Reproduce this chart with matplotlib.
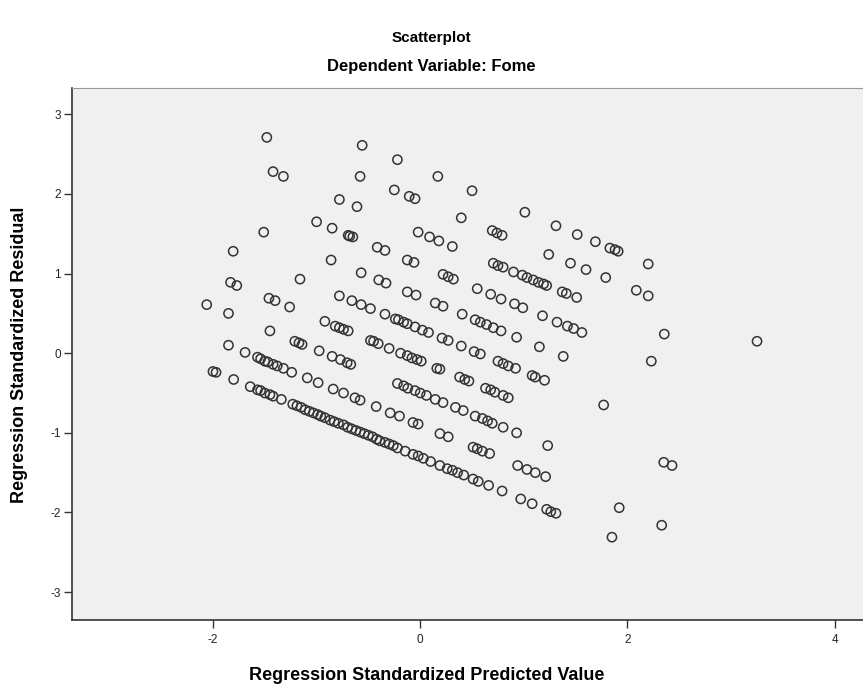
import matplotlib
matplotlib.use("Agg")
import matplotlib.pyplot as plt
import numpy as np

plt.rcParams['font.family'] = ['Liberation Sans', 'DejaVu Sans']
plt.rcParams['axes.unicode_minus'] = False

# Regression standardized predicted value / residual pairs
pred = [
    # lowest band
    -2.00, -1.97, -1.80, -1.64, -1.57, -1.54, -1.50, -1.45, -1.42, -1.34,
    -1.23, -1.19, -1.15, -1.11, -1.07, -1.03, -0.99, -0.96, -0.92, -0.87,
    -0.83, -0.79, -0.74, -0.70, -0.66, -0.62, -0.58, -0.54, -0.50, -0.46,
    -0.42, -0.39, -0.34, -0.30, -0.26, -0.22, -0.145, -0.07, -0.02, 0.03,
    0.10, 0.19, 0.26, 0.31, 0.36, 0.42, 0.51, 0.56, 0.66, 0.79,
    0.97, 1.08, 1.22, 1.26, 1.31, 1.85,
    # band 2
    -1.85, -1.69, -1.57, -1.54, -1.50, -1.47, -1.42, -1.38, -1.32, -1.24,
    -1.09, -0.985, -0.84, -0.74, -0.63, -0.58, -0.425, -0.29, -0.20, -0.07,
    -0.02, 0.19, 0.27, 0.51, 0.55, 0.60, 0.67, 0.94, 1.03, 1.11,
    1.21, 1.92, 2.33,
    # band 3
    -2.06, -1.85, -1.45, -1.21, -1.17, -1.14, -0.975, -0.85, -0.77, -0.705,
    -0.67, -0.22, -0.16, -0.12, -0.05, 0.00, 0.06, 0.145, 0.22, 0.34,
    0.415, 0.53, 0.60, 0.65, 0.695, 0.80, 0.93, 1.23,
    # band 4
    -1.83, -1.77, -1.46, -1.40, -1.26, -0.92, -0.82, -0.78, -0.74, -0.695,
    -0.48, -0.45, -0.405, -0.30, -0.19, -0.125, -0.08, -0.03, 0.01, 0.16,
    0.19, 0.38, 0.43, 0.47, 0.63, 0.68, 0.72, 0.80, 0.85, 2.35,
    2.43,
    # band 5
    -1.805, -1.16, -0.78, -0.66, -0.57, -0.48, -0.34, -0.24, -0.21, -0.16,
    -0.125, -0.05, 0.02, 0.08, 0.21, 0.27, 0.396, 0.52, 0.58, 0.75,
    0.80, 0.85, 0.92, 1.08, 1.11, 1.20, 1.77,
    # band 6
    -1.51, -0.86, -0.57, -0.40, -0.33, -0.125, -0.04, 0.145, 0.22, 0.405,
    0.53, 0.58, 0.64, 0.705, 0.78, 0.93, 1.15, 1.38,
    # band 7
    -1.00, -0.85, -0.695, -0.68, -0.65, -0.415, -0.34, -0.125, -0.06, 0.22,
    0.27, 0.32, 0.55, 0.68, 0.78, 0.91, 0.99, 1.18, 1.32, 1.42,
    1.48, 1.56, 2.23,
    # band 8
    -1.42, -1.32, -0.78, -0.61, -0.02, 0.09, 0.18, 0.31, 0.705, 0.75,
    0.80, 0.90, 0.985, 1.03, 1.09, 1.14, 1.19, 1.22, 1.37, 1.41,
    1.51, 2.355,
    # band 9
    -1.48, -0.58, -0.25, -0.106, -0.05, 0.396, 0.695, 0.74, 0.79, 1.24,
    1.45, 1.60, 1.79, 2.085, 2.20, 3.25,
    # band 10
    -0.56, -0.22, 0.17, 0.50, 1.01, 1.31, 1.515, 1.69, 1.83, 1.88,
    1.91, 2.20,
]

resid = [
    # lowest band
    -0.23, -0.24, -0.33, -0.42, -0.46, -0.47, -0.50, -0.52, -0.54, -0.58,
    -0.64, -0.66, -0.68, -0.71, -0.73, -0.75, -0.77, -0.79, -0.81, -0.84,
    -0.86, -0.88, -0.90, -0.93, -0.95, -0.97, -0.99, -1.01, -1.03, -1.05,
    -1.08, -1.10, -1.12, -1.14, -1.16, -1.19, -1.23, -1.27, -1.29, -1.32,
    -1.36, -1.41, -1.45, -1.47, -1.50, -1.53, -1.58, -1.61, -1.66, -1.73,
    -1.83, -1.89, -1.96, -1.99, -2.01, -2.31,
    # band 2
    0.10, 0.01, -0.05, -0.07, -0.10, -0.11, -0.14, -0.16, -0.19, -0.24,
    -0.31, -0.37, -0.45, -0.50, -0.56, -0.59, -0.67, -0.75, -0.79, -0.87,
    -0.89, -1.01, -1.05, -1.18, -1.20, -1.23, -1.26, -1.41, -1.46, -1.50,
    -1.55, -1.94, -2.16,
    # band 3
    0.61, 0.50, 0.28, 0.15, 0.13, 0.11, 0.03, -0.04, -0.08, -0.12,
    -0.14, -0.38, -0.41, -0.44, -0.47, -0.50, -0.53, -0.58, -0.62, -0.68,
    -0.72, -0.79, -0.82, -0.85, -0.88, -0.93, -1.00, -1.16,
    # band 4
    0.89, 0.85, 0.69, 0.66, 0.58, 0.40, 0.34, 0.32, 0.30, 0.28,
    0.16, 0.15, 0.12, 0.06, 0.00, -0.03, -0.06, -0.08, -0.10, -0.19,
    -0.20, -0.30, -0.33, -0.35, -0.44, -0.46, -0.49, -0.53, -0.56, -1.37,
    -1.41,
    # band 5
    1.28, 0.93, 0.72, 0.66, 0.61, 0.56, 0.49, 0.43, 0.42, 0.39,
    0.37, 0.33, 0.29, 0.26, 0.19, 0.16, 0.09, 0.02, -0.01, -0.10,
    -0.13, -0.16, -0.19, -0.28, -0.30, -0.34, -0.65,
    # band 6
    1.52, 1.17, 1.01, 0.92, 0.88, 0.77, 0.73, 0.63, 0.59, 0.49,
    0.42, 0.39, 0.36, 0.32, 0.28, 0.20, 0.08, -0.04,
    # band 7
    1.65, 1.57, 1.48, 1.47, 1.46, 1.33, 1.29, 1.17, 1.14, 0.99,
    0.96, 0.93, 0.81, 0.74, 0.68, 0.62, 0.57, 0.47, 0.39, 0.34,
    0.31, 0.26, -0.10,
    # band 8
    2.28, 2.22, 1.93, 1.84, 1.52, 1.46, 1.41, 1.34, 1.13, 1.10,
    1.08, 1.02, 0.98, 0.95, 0.92, 0.89, 0.87, 0.85, 0.77, 0.75,
    0.70, 0.24,
    # band 9
    2.71, 2.22, 2.05, 1.97, 1.94, 1.70, 1.54, 1.51, 1.48, 1.24,
    1.13, 1.05, 0.95, 0.79, 0.72, 0.15,
    # band 10
    2.61, 2.43, 2.22, 2.04, 1.77, 1.60, 1.49, 1.40, 1.32, 1.30,
    1.28, 1.12,
]

x_ticks = [-2, 0, 2, 4]
y_ticks = [-3, -2, -1, 0, 1, 2, 3]

W, H = 863, 687
fig = plt.figure(figsize=(W / 100, H / 100), dpi=100)
fig.patch.set_facecolor("white")

# plot area: left edge at 72 px, runs off the right side, top 88 px, bottom 620 px
ax = fig.add_axes([72 / W, (H - 620) / H, 798 / W, 532 / H])
ax.set_facecolor("#f0f0f0")

ax.scatter(pred, resid, s=44, facecolors="none", edgecolors="#333333",
           linewidths=1.1, zorder=3)

ax.set_xlim(-3.36, 4.34)
ax.set_ylim(-3.35, 3.33)
ax.set_xticks(x_ticks)
ax.set_yticks(y_ticks)
ax.tick_params(axis="both", direction="out", length=6, width=1,
               color="#333333", labelsize=8.5, labelcolor="#222222")
ax.tick_params(axis="x", pad=4)
ax.tick_params(axis="y", pad=2)

for side in ["left", "bottom"]:
    ax.spines[side].set_color("#333333")
    ax.spines[side].set_linewidth(1.2)
ax.spines["top"].set_color("#999999")
ax.spines["top"].set_linewidth(0.8)
ax.spines["right"].set_visible(False)

fig.text(0.5, 1 - 38 / H, "Scatterplot", ha="center", va="center",
         fontsize=11, fontweight="bold")
fig.text(0.5, 1 - 67 / H, "Dependent Variable: Fome", ha="center", va="center",
         fontsize=12, fontweight="bold")
fig.text(427 / W, 1 - 675 / H, "Regression Standardized Predicted Value",
         ha="center", va="center", fontsize=13, fontweight="bold")
fig.text(20 / W, 1 - 355 / H, "Regression Standardized Residual",
         ha="center", va="center", rotation=90, fontsize=13, fontweight="bold")

fig.savefig("out.png", dpi=100)
